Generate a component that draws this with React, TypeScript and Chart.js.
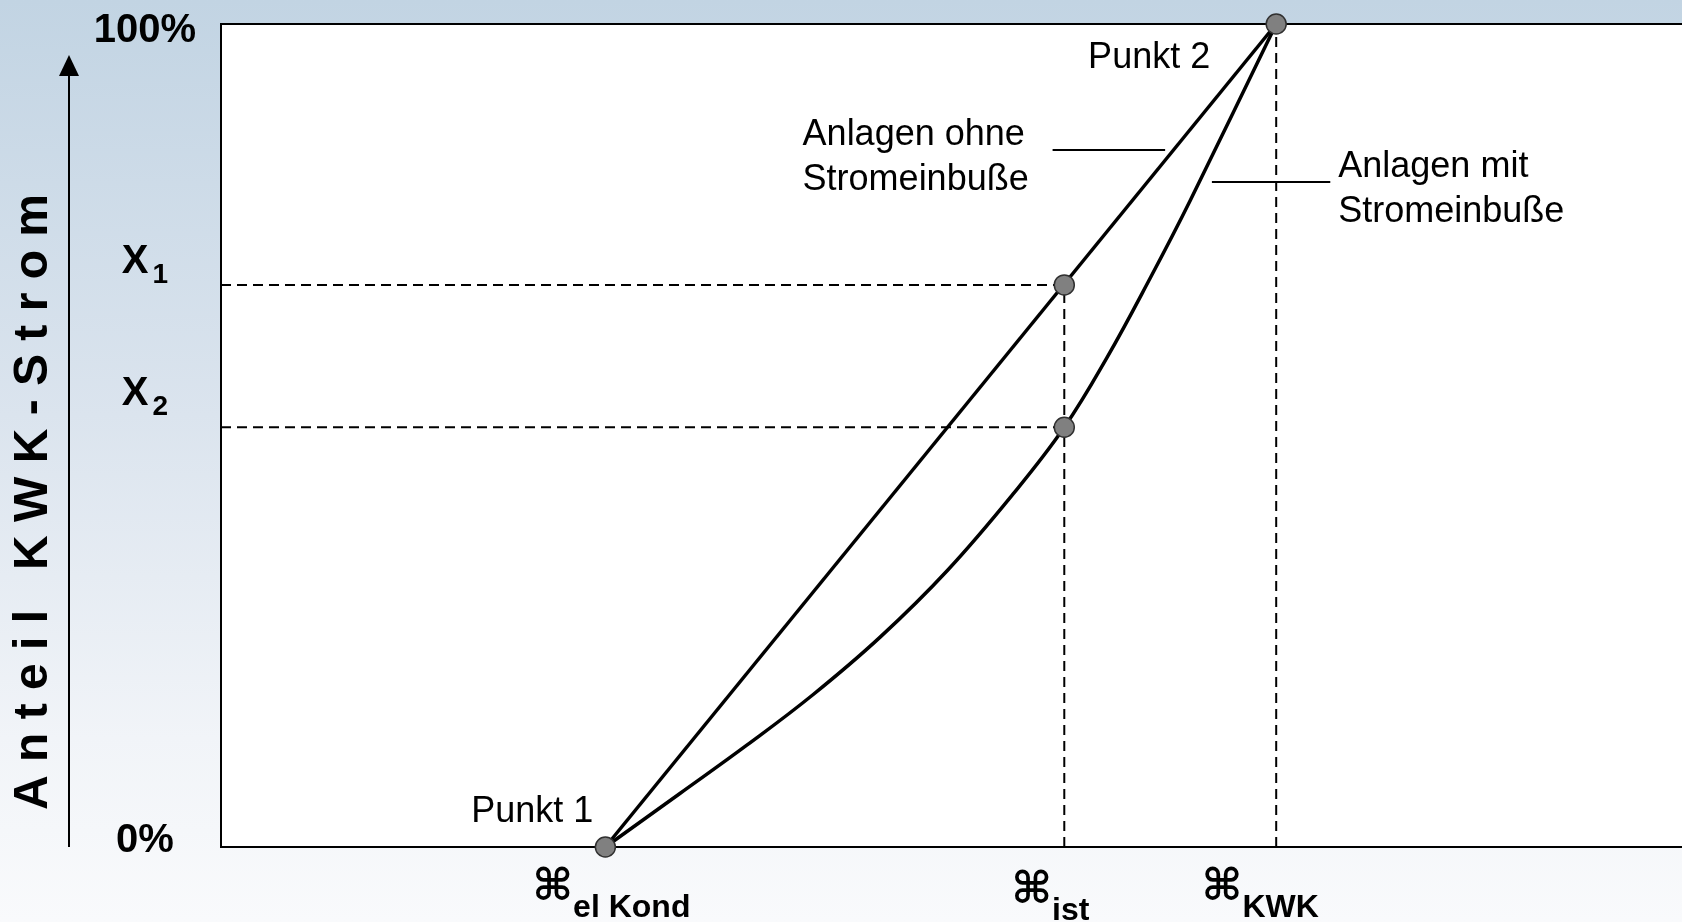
import { useEffect, useRef } from "react";
import { Chart, registerables } from "chart.js";

Chart.register(...registerables);

// ---- data (x: efficiency scale 0..100, y: share of CHP power in %) ----
const ohneX = [26.3, 72.2];
const ohneY = [0, 100];
const mitX = [26.3, 31.4, 36.0, 40.5, 45.1, 49.7, 54.2, 57.7, 60.6, 63.6, 66.3, 72.2];
const mitY = [0, 6.5, 12.4, 18.5, 25.5, 33.6, 42.9, 51.0, 59.4, 69.2, 78.5, 100];
const etaValues = [26.3, 57.7, 72.2];
const etaSubscripts = ["el Kond", "ist", "KWK"];
const levelValues = [100, 68.3, 51.0, 0];
const levelMain = ["100%", "X", "X", "0%"];
const levelSub = ["", "1", "2", ""];
const markerX = [26.3, 72.2, 57.7, 57.7];
const markerY = [0, 100, 68.3, 51.0];
const pointNames = ["Punkt 1", "Punkt 2"];
const leaderOhneX = [56.9, 64.6];
const leaderOhneY = [84.7, 84.7];
const leaderMitX = [67.8, 75.9];
const leaderMitY = [80.8, 80.8];
const labelOhne = ["Anlagen ohne", "Stromeinbuße"];
const labelMit = ["Anlagen mit", "Stromeinbuße"];
const yTitle = "Anteil KWK-Strom";

const SANS = "'Liberation Sans', Arial, Helvetica, sans-serif";

const zip = (xs: number[], ys: number[]) => xs.map((x, i) => ({ x, y: ys[i] }));

export default function App() {
  const ref = useRef<HTMLCanvasElement | null>(null);

  useEffect(() => {
    document.body.style.margin = "0";
    document.body.style.overflow = "hidden";
    const canvas = ref.current!;
    const dash = [10, 6];

    const decor = {
      id: "decor",
      beforeDraw(chart: any) {
        const { ctx, chartArea: a, width, height } = chart;
        ctx.save();
        const g = ctx.createLinearGradient(0, 0, 0, height);
        g.addColorStop(0, "#c2d4e3");
        g.addColorStop(0.45, "#dbe4ee");
        g.addColorStop(0.8, "#f1f4f8");
        g.addColorStop(1, "#f9fafc");
        ctx.fillStyle = g;
        ctx.fillRect(0, 0, width, height);
        ctx.fillStyle = "#ffffff";
        ctx.fillRect(a.left, a.top, width - a.left, a.bottom - a.top);
        ctx.restore();
      },
      beforeDatasetsDraw(chart: any) {
        const { ctx, chartArea: a, width } = chart;
        ctx.save();
        ctx.strokeStyle = "#000";
        ctx.lineWidth = 2;
        ctx.beginPath();
        ctx.moveTo(width + 5, a.top);
        ctx.lineTo(a.left, a.top);
        ctx.lineTo(a.left, a.bottom);
        ctx.lineTo(width + 5, a.bottom);
        ctx.stroke();
        ctx.restore();
      },
      afterDraw(chart: any) {
        const { ctx, chartArea: a, scales } = chart;
        const xs = scales.x;
        const ys = scales.y;
        ctx.save();
        ctx.fillStyle = "#000";

        // y-axis title, rotated
        ctx.save();
        ctx.translate(34, 502);
        ctx.rotate(-Math.PI / 2);
        ctx.font = `bold 48px ${SANS}`;
        ctx.textAlign = "center";
        ctx.textBaseline = "middle";
        ctx.fillText(yTitle.split("").join(" "), 0, 0);
        ctx.restore();

        // arrow
        ctx.strokeStyle = "#000";
        ctx.lineWidth = 2;
        ctx.beginPath();
        ctx.moveTo(69, a.bottom);
        ctx.lineTo(69, a.top + 48);
        ctx.stroke();
        ctx.beginPath();
        ctx.moveTo(69, a.top + 31);
        ctx.lineTo(59, a.top + 52);
        ctx.lineTo(79, a.top + 52);
        ctx.closePath();
        ctx.fill();

        // y level labels
        const mainDy = [18, -12, -22, 5];
        const subDy = [0, -2, -12, 0];
        levelValues.forEach((v, i) => {
          const py = ys.getPixelForValue(v);
          ctx.font = `bold 40px ${SANS}`;
          const mw = ctx.measureText(levelMain[i]).width;
          ctx.font = `bold 28px ${SANS}`;
          const sw = levelSub[i] ? ctx.measureText(levelSub[i]).width + 4 : 0;
          const left = 145 - (mw + sw) / 2;
          ctx.textAlign = "left";
          ctx.textBaseline = "alphabetic";
          ctx.font = `bold 40px ${SANS}`;
          ctx.fillText(levelMain[i], left, py + mainDy[i]);
          if (levelSub[i]) {
            ctx.font = `bold 28px ${SANS}`;
            ctx.fillText(levelSub[i], left + mw + 4, py + subDy[i]);
          }
        });

        // x eta labels
        const etaDx = [6, -14, -16];
        const etaBase = [917, 920, 917];
        const glyphFont = `bold 44px 'DejaVu Sans', sans-serif`;
        const subFont = `bold 32px ${SANS}`;
        etaValues.forEach((v, i) => {
          const px = xs.getPixelForValue(v);
          ctx.font = glyphFont;
          const gw = ctx.measureText("⌘").width;
          ctx.font = subFont;
          const sw = ctx.measureText(etaSubscripts[i]).width;
          const left = px + etaDx[i] - (gw + sw) / 2;
          ctx.textAlign = "left";
          ctx.textBaseline = "alphabetic";
          ctx.font = glyphFont;
          ctx.fillText("⌘", left, etaBase[i] - 17);
          ctx.font = subFont;
          ctx.fillText(etaSubscripts[i], left + gw, etaBase[i]);
        });

        // point names
        ctx.font = `36px ${SANS}`;
        ctx.textAlign = "right";
        ctx.textBaseline = "alphabetic";
        const p1x = xs.getPixelForValue(markerX[0]);
        const p1y = ys.getPixelForValue(markerY[0]);
        ctx.fillText(pointNames[0], p1x - 12, p1y - 25);
        const p2x = xs.getPixelForValue(markerX[1]);
        const p2y = ys.getPixelForValue(markerY[1]);
        ctx.fillText(pointNames[1], p2x - 66, p2y + 44);

        // curve labels
        const lox = xs.getPixelForValue(leaderOhneX[0]);
        const loy = ys.getPixelForValue(leaderOhneY[0]);
        ctx.textAlign = "left";
        ctx.fillText(labelOhne[0], lox - 250, loy - 5);
        ctx.fillText(labelOhne[1], lox - 250, loy + 40);
        const lmx = xs.getPixelForValue(leaderMitX[1]);
        const lmy = ys.getPixelForValue(leaderMitY[1]);
        ctx.fillText(labelMit[0], lmx + 8, lmy - 5);
        ctx.fillText(labelMit[1], lmx + 8, lmy + 40);

        ctx.restore();
      },
    };

    const dashed = (data: { x: number; y: number }[]) => ({
      data,
      showLine: true,
      borderColor: "#000",
      borderWidth: 2,
      borderDash: dash,
      pointRadius: 0,
      clip: false as any,
      order: 3,
    });

    const chart = new Chart(canvas, {
      type: "scatter",
      data: {
        datasets: [
          {
            data: zip(markerX, markerY),
            showLine: false,
            pointRadius: 10,
            pointHoverRadius: 10,
            backgroundColor: "#808080",
            borderColor: "#303030",
            borderWidth: 1.5,
            clip: false as any,
            order: 0,
          },
          {
            data: zip(ohneX, ohneY),
            showLine: true,
            borderColor: "#000",
            borderWidth: 3.5,
            pointRadius: 0,
            clip: false as any,
            order: 1,
          },
          {
            data: zip(mitX, mitY),
            showLine: true,
            borderColor: "#000",
            borderWidth: 3.5,
            pointRadius: 0,
            tension: 0.4,
            clip: false as any,
            order: 1,
          },
          {
            data: zip(leaderOhneX, leaderOhneY),
            showLine: true,
            borderColor: "#000",
            borderWidth: 2,
            pointRadius: 0,
            order: 2,
          },
          {
            data: zip(leaderMitX, leaderMitY),
            showLine: true,
            borderColor: "#000",
            borderWidth: 2,
            pointRadius: 0,
            order: 2,
          },
          dashed([{ x: 0, y: levelValues[1] }, { x: etaValues[1], y: levelValues[1] }]),
          dashed([{ x: 0, y: levelValues[2] }, { x: etaValues[1], y: levelValues[2] }]),
          dashed([{ x: etaValues[1], y: 0 }, { x: etaValues[1], y: levelValues[1] }]),
          dashed([{ x: etaValues[2], y: 0 }, { x: etaValues[2], y: levelValues[0] }]),
        ] as any,
      },
      options: {
        animation: false,
        responsive: false,
        maintainAspectRatio: false,
        events: [],
        layout: { padding: { left: 221, top: 24, right: 0, bottom: 75 } },
        plugins: { legend: { display: false }, tooltip: { enabled: false } },
        scales: {
          x: { type: "linear", min: 0, max: 100, display: false },
          y: { type: "linear", min: 0, max: 100, display: false },
        },
      },
      plugins: [decor],
    });
    return () => chart.destroy();
  }, []);

  return (
    <div style={{ width: 1682, height: 922, overflow: "hidden" }}>
      <canvas ref={ref} width={1694} height={922} style={{ display: "block" }} />
    </div>
  );
}
